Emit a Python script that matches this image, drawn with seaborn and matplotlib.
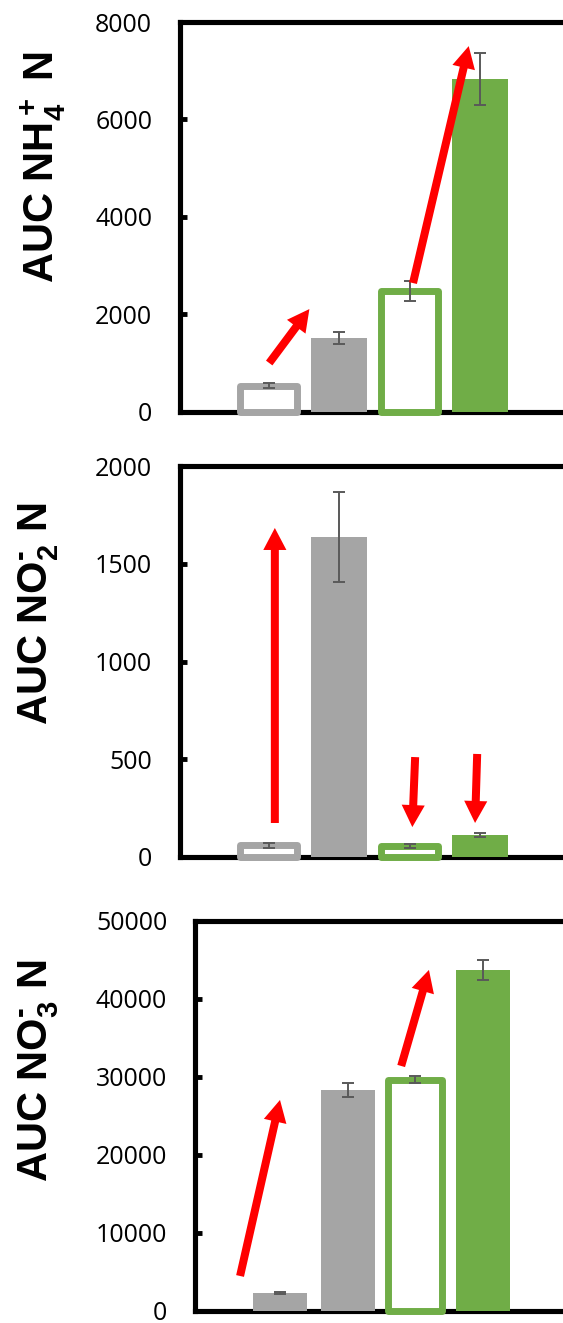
import numpy as np
import pandas as pd
import matplotlib
matplotlib.use("Agg")
import matplotlib.pyplot as plt
import seaborn as sns

# ---------------- data ----------------
categories = ["Gray open", "Gray solid", "Green open", "Green solid"]
bar_colors = ["#A5A5A5", "#A5A5A5", "#70AD47", "#70AD47"]

nh4_values = [533, 1506, 2480, 6826]
nh4_errors = [60, 125, 205, 535]
nh4_open = [True, False, True, False]
nh4_ticks = [0, 2000, 4000, 6000, 8000]
nh4_label = r"AUC NH$_4^+$ N"
# arrows: (tail, tip) in (category position, value)
nh4_arrows = [((0.01, 996), (0.58, 2104)), ((2.05, 2638), (2.84, 7505))]

no2_values = [59, 1637, 58, 112]
no2_errors = [11, 230, 11, 10]
no2_open = [True, False, True, False]
no2_ticks = [0, 500, 1000, 1500, 2000]
no2_label = r"AUC NO$_2^{\text{-}}$ N"
no2_arrows = [((0.09, 174), (0.09, 1683)), ((2.08, 511), (2.04, 153)),
              ((2.96, 527), (2.93, 174))]

no3_values = [2250, 28310, 29600, 43700]
no3_errors = [150, 900, 450, 1230]
no3_open = [False, False, True, False]
no3_ticks = [0, 10000, 20000, 30000, 40000, 50000]
no3_label = r"AUC NO$_3^{\text{-}}$ N"
no3_arrows = [((-0.59, 4430), (0.0, 27030)), ((1.79, 31390), (2.2, 43720))]

# ---------------- style ----------------
sns.set_theme(style="white")
plt.rcParams["font.family"] = ["Open Sans", "DejaVu Sans"]
plt.rcParams["mathtext.fontset"] = "custom"
plt.rcParams["mathtext.rm"] = "Liberation Sans:bold"
plt.rcParams["mathtext.it"] = "Liberation Sans:bold"
plt.rcParams["mathtext.bf"] = "Liberation Sans:bold"
plt.rcParams["mathtext.default"] = "rm"

W, H = 563, 1323
fig = plt.figure(figsize=(W / 100, H / 100), dpi=100)

panels = [
    dict(vals=nh4_values, errs=nh4_errors, open=nh4_open, ticks=nh4_ticks,
         label=nh4_label, arrows=nh4_arrows,
         px=(180, 600, 22, 411.5), c0=268.5, step=70.5, lab=(54, 167.5)),
    dict(vals=no2_values, errs=no2_errors, open=no2_open, ticks=no2_ticks,
         label=no2_label, arrows=no2_arrows,
         px=(180, 600, 466, 857), c0=268.5, step=70.5, lab=(48, 613.5)),
    dict(vals=no3_values, errs=no3_errors, open=no3_open, ticks=no3_ticks,
         label=no3_label, arrows=no3_arrows,
         px=(195, 600, 921, 1310.5), c0=280, step=67.7, lab=(48, 1070.5)),
]

palette = dict(zip(categories, bar_colors))

for sp in panels:
    x0, x1, ytop, ybot = sp["px"]
    rect = [x0 / W, 1 - ybot / H, (x1 - x0) / W, (ybot - ytop) / H]
    ax = fig.add_axes(rect)
    df = pd.DataFrame({"cat": categories, "val": sp["vals"]})
    sns.barplot(data=df, x="cat", y="val", hue="cat", palette=palette,
                legend=False, width=0.8, errorbar=None, saturation=1, ax=ax)
    for p, is_open, c in zip(ax.patches, sp["open"], bar_colors):
        if is_open:
            p.set_facecolor("white")
            p.set_edgecolor(c)
            p.set_linewidth(5)
            p.set_joinstyle("round")
        else:
            p.set_linewidth(0)
        p.set_zorder(3)
        p.set_clip_on(False)
    centers = [p.get_x() + p.get_width() / 2 for p in ax.patches]
    ax.errorbar(centers, sp["vals"], yerr=sp["errs"], fmt="none",
                ecolor="#595959", elinewidth=1.4, capsize=4.5, capthick=1.4,
                zorder=4, clip_on=False)

    ax.set_xlim((x0 - sp["c0"]) / sp["step"], (x1 - sp["c0"]) / sp["step"])
    ax.set_ylim(sp["ticks"][0], sp["ticks"][-1])
    ax.set_yticks(sp["ticks"])
    ax.set_yticklabels([str(t) for t in sp["ticks"]])
    ax.tick_params(axis="y", direction="in", length=4.7, width=3.5, pad=20,
                   labelsize=18, colors="black", left=True)
    ax.tick_params(axis="x", bottom=False, labelbottom=False)
    ax.set_xlabel("")
    for s in ax.spines.values():
        s.set_visible(True)
        s.set_color("black")
        s.set_linewidth(3.7)
        s.set_capstyle("projecting")
        s.set_zorder(2.5)

    yl = ax.set_ylabel(sp["label"], fontsize=30, fontweight="bold",
                       family="Liberation Sans", color="black")
    yl.set_rotation_mode("anchor")
    yl.set_ha("center")
    yl.set_va("baseline")
    lx, ly = sp["lab"]
    ax.yaxis.set_label_coords((lx - x0) / (x1 - x0), (ybot - ly) / (ybot - ytop))

    for tail, tip in sp["arrows"]:
        ax.annotate("", xy=tip, xytext=tail, annotation_clip=False, zorder=5,
                    arrowprops=dict(arrowstyle="simple,head_length=0.99,head_width=1.04,tail_width=0.36",
                                    color="#FF0000", lw=0, mutation_scale=16,
                                    shrinkA=0, shrinkB=0))

fig.savefig("out.png", dpi=100)
